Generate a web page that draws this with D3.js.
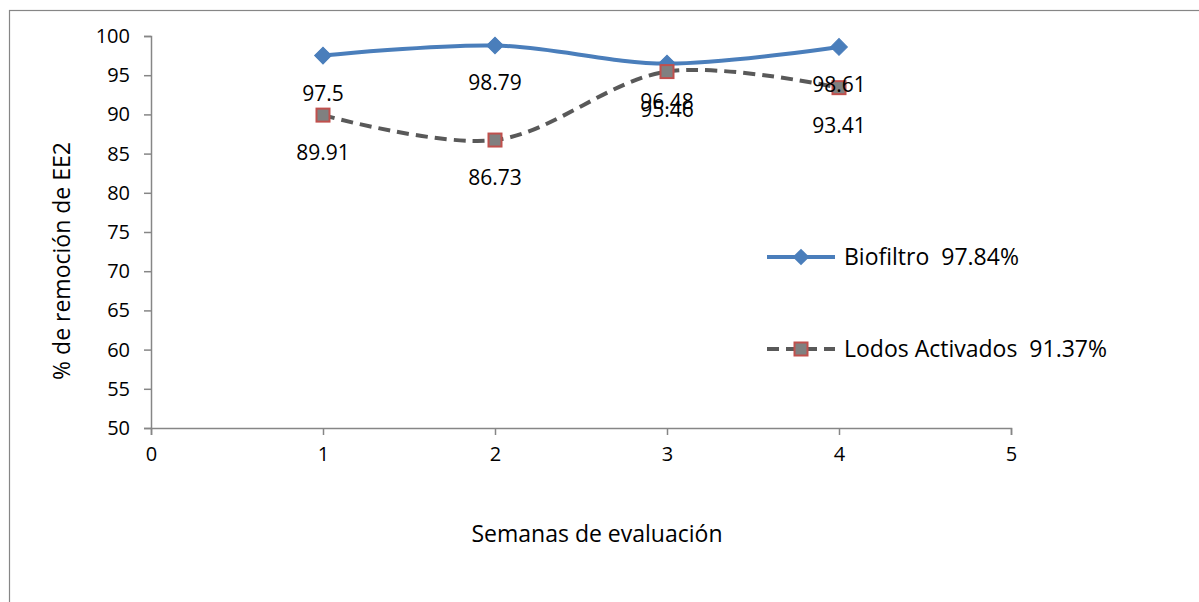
<!DOCTYPE html>
<html><head><meta charset="utf-8">
<script src="https://cdn.jsdelivr.net/npm/d3@7"></script>
<style>
body{margin:0;background:#fff;}
text{font-family:"Open Sans","Noto Sans",sans-serif;fill:#000;}
</style></head>
<body><svg id="c" width="1199" height="602"></svg>
<script>
const weeks = [1, 2, 3, 4];
const biofiltro = [97.5, 98.79, 96.48, 98.61];
const lodos = [89.91, 86.73, 95.46, 93.41];
const seriesNames = ["Biofiltro  97.84%", "Lodos Activados  91.37%"];
const xTicks = [0, 1, 2, 3, 4, 5];
const yTicks = [50, 55, 60, 65, 70, 75, 80, 85, 90, 95, 100];

const svg = d3.select("#c");
const fsTick = 20, fsLabel = 21, fsTitle = 23;
svg.append("rect").attr("x", 9.5).attr("y", 10.5).attr("width", 1400).attr("height", 800)
  .attr("fill", "#fff").attr("stroke", "#868686").attr("stroke-width", 1.2);

const x = d3.scaleLinear().domain([0, 5]).range([151, 1011]);
const y = d3.scaleLinear().domain([50, 100]).range([428, 36]);

const gy = svg.append("g").attr("transform", "translate(151,0)")
  .call(d3.axisLeft(y).tickValues(yTicks).tickFormat(d3.format("d")).tickSize(7).tickPadding(14));
const gx = svg.append("g").attr("transform", "translate(0,428)")
  .call(d3.axisBottom(x).tickValues(xTicks).tickFormat(d3.format("d")).tickSize(7).tickPadding(12));
[gx, gy].forEach(g => {
  g.select(".domain").attr("stroke", "#868686").attr("stroke-width", 1.5);
  g.selectAll(".tick line").attr("stroke", "#868686").attr("stroke-width", 1.5);
  g.selectAll(".tick text").style("font-size", fsTick + "px").attr("fill", "#000");
});

svg.append("text").attr("x", 597).attr("y", 542).attr("text-anchor", "middle")
  .style("font-size", fsTitle + "px").text("Semanas de evaluación");
svg.append("text").attr("transform", "translate(70,261) rotate(-90)").attr("text-anchor", "middle")
  .style("font-size", fsTitle + "px").text("% de remoción de EE2");

const line = d3.line().x((d, i) => x(weeks[i])).y(d => y(d)).curve(d3.curveCatmullRom.alpha(0.5));

const blue = "#4a7ebb", gray = "#595959";
svg.append("path").attr("d", line(biofiltro)).attr("fill", "none").attr("stroke", blue).attr("stroke-width", 4);
svg.append("path").attr("d", line(lodos)).attr("fill", "none").attr("stroke", gray).attr("stroke-width", 4)
  .attr("stroke-dasharray", "12,7");

svg.selectAll(".bm").data(biofiltro).enter().append("path")
  .attr("d", d3.symbol().type(d3.symbolSquare).size(140)())
  .attr("transform", (d, i) => `translate(${x(weeks[i])},${y(d)}) rotate(45)`)
  .attr("fill", blue).attr("stroke", blue).attr("stroke-width", 1);
svg.selectAll(".lm").data(lodos).enter().append("rect")
  .attr("x", (d, i) => x(weeks[i]) - 6.5).attr("y", d => y(d) - 6.5).attr("width", 13).attr("height", 13)
  .attr("fill", "#808080").attr("stroke", "#c0504d").attr("stroke-width", 2);

svg.selectAll(".bl").data(biofiltro).enter().append("text")
  .attr("x", (d, i) => x(weeks[i])).attr("y", d => y(d) + 45).attr("text-anchor", "middle")
  .style("font-size", fsLabel + "px").text(d => d);
svg.selectAll(".ll").data(lodos).enter().append("text")
  .attr("x", (d, i) => x(weeks[i])).attr("y", d => y(d) + 45).attr("text-anchor", "middle")
  .style("font-size", fsLabel + "px").text(d => d);

// legend
const lg = [{y: 257, c: blue, dash: null, m: "d"}, {y: 349, c: gray, dash: "12,7", m: "s"}];
lg.forEach((l, i) => {
  svg.append("line").attr("x1", 767).attr("x2", 835).attr("y1", l.y).attr("y2", l.y)
    .attr("stroke", l.c).attr("stroke-width", 4).attr("stroke-dasharray", l.dash);
  if (l.m === "d") {
    svg.append("path").attr("d", d3.symbol().type(d3.symbolSquare).size(140)())
      .attr("transform", `translate(801,${l.y}) rotate(45)`).attr("fill", blue);
  } else {
    svg.append("rect").attr("x", 794.5).attr("y", l.y - 6.5).attr("width", 13).attr("height", 13)
      .attr("fill", "#808080").attr("stroke", "#c0504d").attr("stroke-width", 2);
  }
  svg.append("text").attr("x", 844).attr("y", l.y + 8).style("font-size", fsTitle + "px")
    .attr("xml:space", "preserve").text(seriesNames[i]);
});
</script></body></html>
